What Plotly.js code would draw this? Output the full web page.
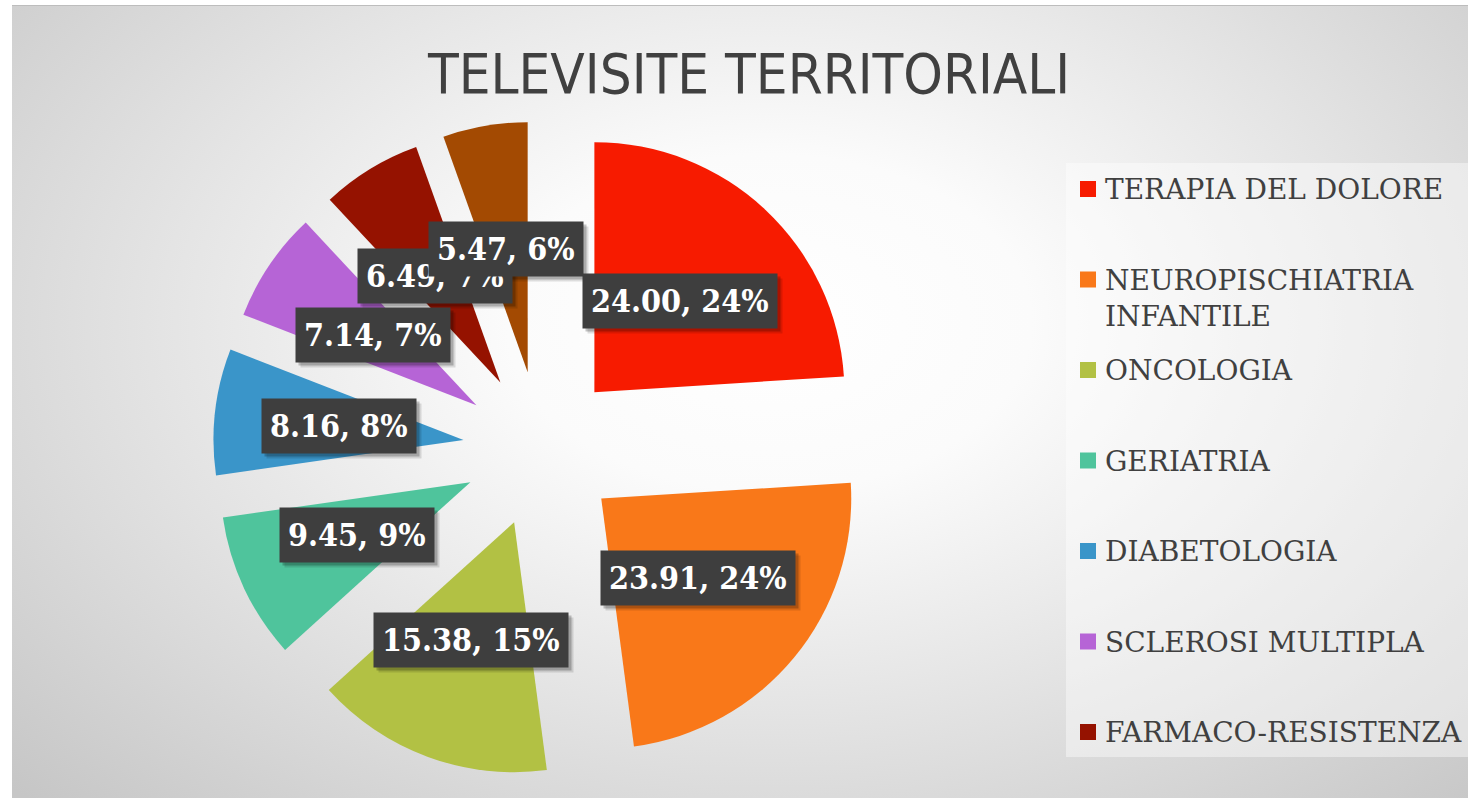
<!DOCTYPE html>
<html><head><meta charset="utf-8">
<script src="https://cdn.plot.ly/plotly-3.0.1.min.js"></script>
<style>
html,body{margin:0;padding:0;background:#fff;width:1468px;height:799px;overflow:hidden;}
#bg{position:absolute;left:12px;top:5px;width:1456px;height:792px;
 background:radial-gradient(ellipse 72% 85% at 52% 40%, #ffffff 0%, #fbfbfb 25%, #e4e4e4 58%, #c6c6c6 100%);
 border-top:1px solid #bdbdbd;}
#chart{position:absolute;left:0;top:0;width:1468px;height:799px;}
</style></head><body>
<div id="bg"></div><div id="chart"></div>
<script>
// ---- data ----
const categories = ['TERAPIA DEL DOLORE','NEUROPISCHIATRIA INFANTILE','ONCOLOGIA','GERIATRIA','DIABETOLOGIA','SCLEROSI MULTIPLA','FARMACO-RESISTENZA','ALTRO'];
const values = [24.00, 23.91, 15.38, 9.45, 8.16, 7.14, 6.49, 5.47];
const percentLabels = [24, 24, 15, 9, 8, 7, 7, 6];
const colors = ['#f71b00','#f97819','#b2c144','#4fc49c','#3a95c9','#b664d6','#951200','#a34a02'];
const legendVisibleCount = 7;

// ---- layout constants ----
const W = 1468, H = 799;
const PIE_CX = 541, PIE_CY = 449, PIE_R = 250, PULL = 0.312;
const LABEL_K = 0.50;
const half = PIE_R * (1 + PULL);
const domain = {
  x: [(PIE_CX - half) / W, (PIE_CX + half) / W],
  y: [1 - (PIE_CY + half) / H, 1 - (PIE_CY - half) / H]
};

const total = values.reduce((a, b) => a + b, 0);
const annotations = [];
const shapes = [];
const labelIdx = [];

// data labels (boxes) positioned along each slice's mid-angle
let cum = 0;
values.forEach((v, i) => {
  const mid = (cum + v / 2) / total * 2 * Math.PI;
  cum += v;
  const d = PIE_R * (PULL + LABEL_K);
  const px = PIE_CX + d * Math.sin(mid);
  const py = PIE_CY - d * Math.cos(mid);
  labelIdx.push(annotations.length);
  annotations.push({
    xref: 'paper', yref: 'paper', x: px / W, y: 1 - py / H,
    xanchor: 'center', yanchor: 'middle', showarrow: false,
    text: v.toFixed(2) + ', ' + percentLabels[i] + '%',
    borderpad: 8, bgcolor: '#3e3e3e',
    font: {family: 'DejaVu Serif Condensed, DejaVu Serif, serif', size: 32, color: '#ffffff', weight: 'bold'}
  });
});

// legend box and entries
shapes.push({type: 'rect', xref: 'paper', yref: 'paper', layer: 'below',
  x0: 1066 / W, x1: 1, y0: 1 - 757 / H, y1: 1 - 163 / H,
  fillcolor: 'rgba(255,255,255,0.42)', line: {width: 0}});
const LEG_FS = 28, LEG_Y0 = 189, LEG_STEP = 90.5;
function wrapLabel(s) {
  if (s.length <= 20) return s;
  const k = s.lastIndexOf(' ');
  return s.slice(0, k) + '<br>' + s.slice(k + 1);
}
for (let i = 0; i < legendVisibleCount; i++) {
  const cy = LEG_Y0 + i * LEG_STEP;
  shapes.push({type: 'rect', xref: 'paper', yref: 'paper',
    x0: 1080 / W, x1: 1096 / W, y0: 1 - (cy + 8) / H, y1: 1 - (cy - 8) / H,
    fillcolor: colors[i], line: {width: 0}});
  annotations.push({xref: 'paper', yref: 'paper', x: 1103 / W, y: 1 - (cy - 18) / H,
    xanchor: 'left', yanchor: 'top', align: 'left', showarrow: false,
    text: wrapLabel(categories[i]),
    font: {family: 'DejaVu Serif, serif', size: LEG_FS, color: '#404040'}});
}

const trace = {
  type: 'pie', labels: categories, values: values, sort: false,
  direction: 'clockwise', rotation: 0,
  pull: values.map(() => PULL),
  marker: {colors: colors, line: {width: 0}},
  textinfo: 'none', hoverinfo: 'label+value+percent',
  showlegend: false, domain: domain
};

const layout = {
  width: W, height: H,
  margin: {l: 0, r: 0, t: 0, b: 0},
  paper_bgcolor: 'rgba(0,0,0,0)', plot_bgcolor: 'rgba(0,0,0,0)',
  showlegend: false,
  title: {text: 'TELEVISITE TERRITORIALI', x: 749 / W, xanchor: 'center',
    y: 1 - 73 / H, yanchor: 'middle', yref: 'container',
    font: {family: 'Liberation Sans Narrow, Arial Narrow, DejaVu Sans Condensed, sans-serif', size: 56, color: '#404040'}},
  annotations: annotations, shapes: shapes
};

Plotly.newPlot('chart', [trace], layout, {displayModeBar: false, responsive: false}).then(gd => {
  // drop shadows for the label boxes, sized from the rendered boxes
  const shadows = [];
  labelIdx.forEach(k => {
    const g = gd.querySelector('.annotation[data-index="' + k + '"] .bg');
    if (!g) return;
    const b = g.getBoundingClientRect();
    [[3, 0.22], [5, 0.12]].forEach(([o, a]) => {
      shadows.push({type: 'rect', xref: 'paper', yref: 'paper', layer: 'above',
        x0: (b.left + o) / W, x1: (b.right + o) / W,
        y0: 1 - (b.bottom + o) / H, y1: 1 - (b.top + o) / H,
        fillcolor: 'rgba(0,0,0,' + a + ')', line: {width: 0}});
    });
  });
  return Plotly.relayout(gd, {shapes: shapes.concat(shadows)});
});
</script>
</body></html>
